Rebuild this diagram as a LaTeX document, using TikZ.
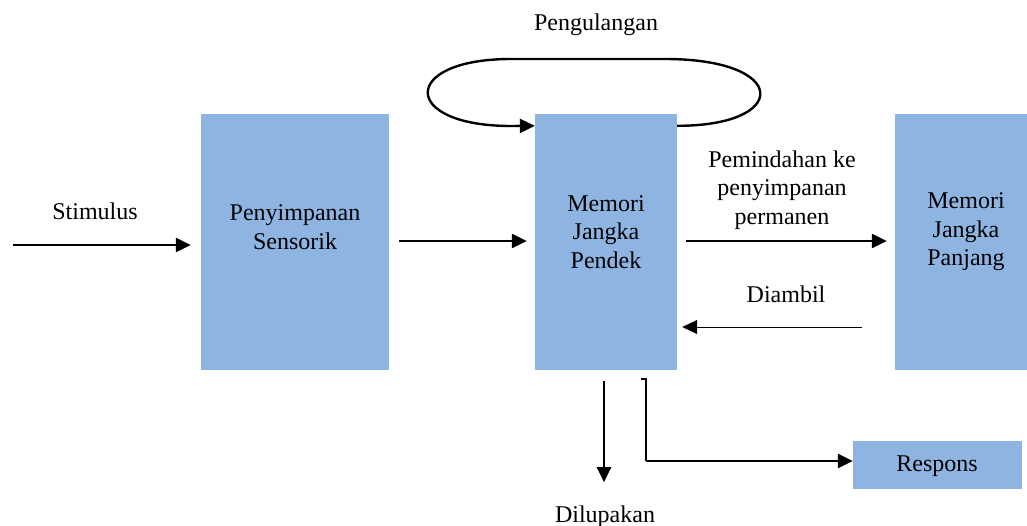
\documentclass[tikz,border=0pt]{standalone}
\usepackage{fontspec}
\setmainfont{Liberation Serif}
\usetikzlibrary{arrows.meta,calc}
\definecolor{boxblue}{RGB}{142,180,226}

\begin{document}
\begin{tikzpicture}[x=1pt,y=-1pt,
  font=\fontsize{24}{28.5}\selectfont,
  blok/.style={fill=boxblue,inner sep=0pt},
  panah/.style={line width=2.4pt,-{Triangle[length=15,width=14]}},
  tipis/.style={line width=1pt,-{Triangle[length=15,width=14]}}]
\useasboundingbox (0,0) rectangle (1027,526);
% kotak
\node[blok,minimum width=188,minimum height=256] (sensor) at (295,242) {};
\node[blok,minimum width=142,minimum height=256] (pendek) at (606,242) {};
\node[blok,minimum width=132,minimum height=256] (panjang) at (961,242) {};
\node[blok,minimum width=169,minimum height=48] (respons) at (937.5,465) {};
% teks
\node[align=center] (tsensor) at (295,227) {Penyimpanan\\Sensorik};
\node[align=center] (tpendek) at (606,232) {Memori\\Jangka\\Pendek};
\node[align=center] (tpanjang) at (966,232) {Memori\\Jangka\\Panjang};
\node (tresp) at (937,466) {Respons};
\node[anchor=base] (stim) at (95,220) {Stimulus};
\node[anchor=base] (ulang) at (596,31) {Pengulangan};
\node[align=center] (pindah) at (782,190) {Pemindahan ke\\penyimpanan\\permanen};
\node[anchor=base] (ambil) at (786,303) {Diambil};
\node[anchor=base] (lupa) at (605,522) {Dilupakan};
% panah
\coordinate (masuk) at (13,245);
\draw[panah] (masuk) -- ($(sensor.west |- masuk)+(-10,0)$);
\draw[panah] ($(sensor.east |- 0,241)+(10,0)$) -- ($(pendek.west |- 0,241)+(-8,0)$);
\draw[panah] ($(pendek.east |- 0,241)+(9,0)$) -- ($(panjang.west |- 0,241)+(-8,0)$);
\draw[tipis] ($(panjang.west |- 0,327)+(-33,0)$) -- ($(pendek.east |- 0,327)+(5,0)$);
\draw[panah] ($(pendek.south)+(-2,11)$) -- ++(0,101);
\coordinate (belok) at (646,461);
\draw[line width=2.4pt] (641,379) -- (646,379) -- (belok);
\draw[panah] (belok) -- (respons.west |- belok);
% putaran
\draw[line width=2.4pt] ($(pendek.north east)+(0,12)$) .. controls (790,126) and (790,59) .. (665,59) -- (511,59)
  .. controls (400,59) and (400,126) .. (511,126);
\draw[panah] (511,126) -- ($(pendek.north west)+(0,12)$);
\end{tikzpicture}
\end{document}
